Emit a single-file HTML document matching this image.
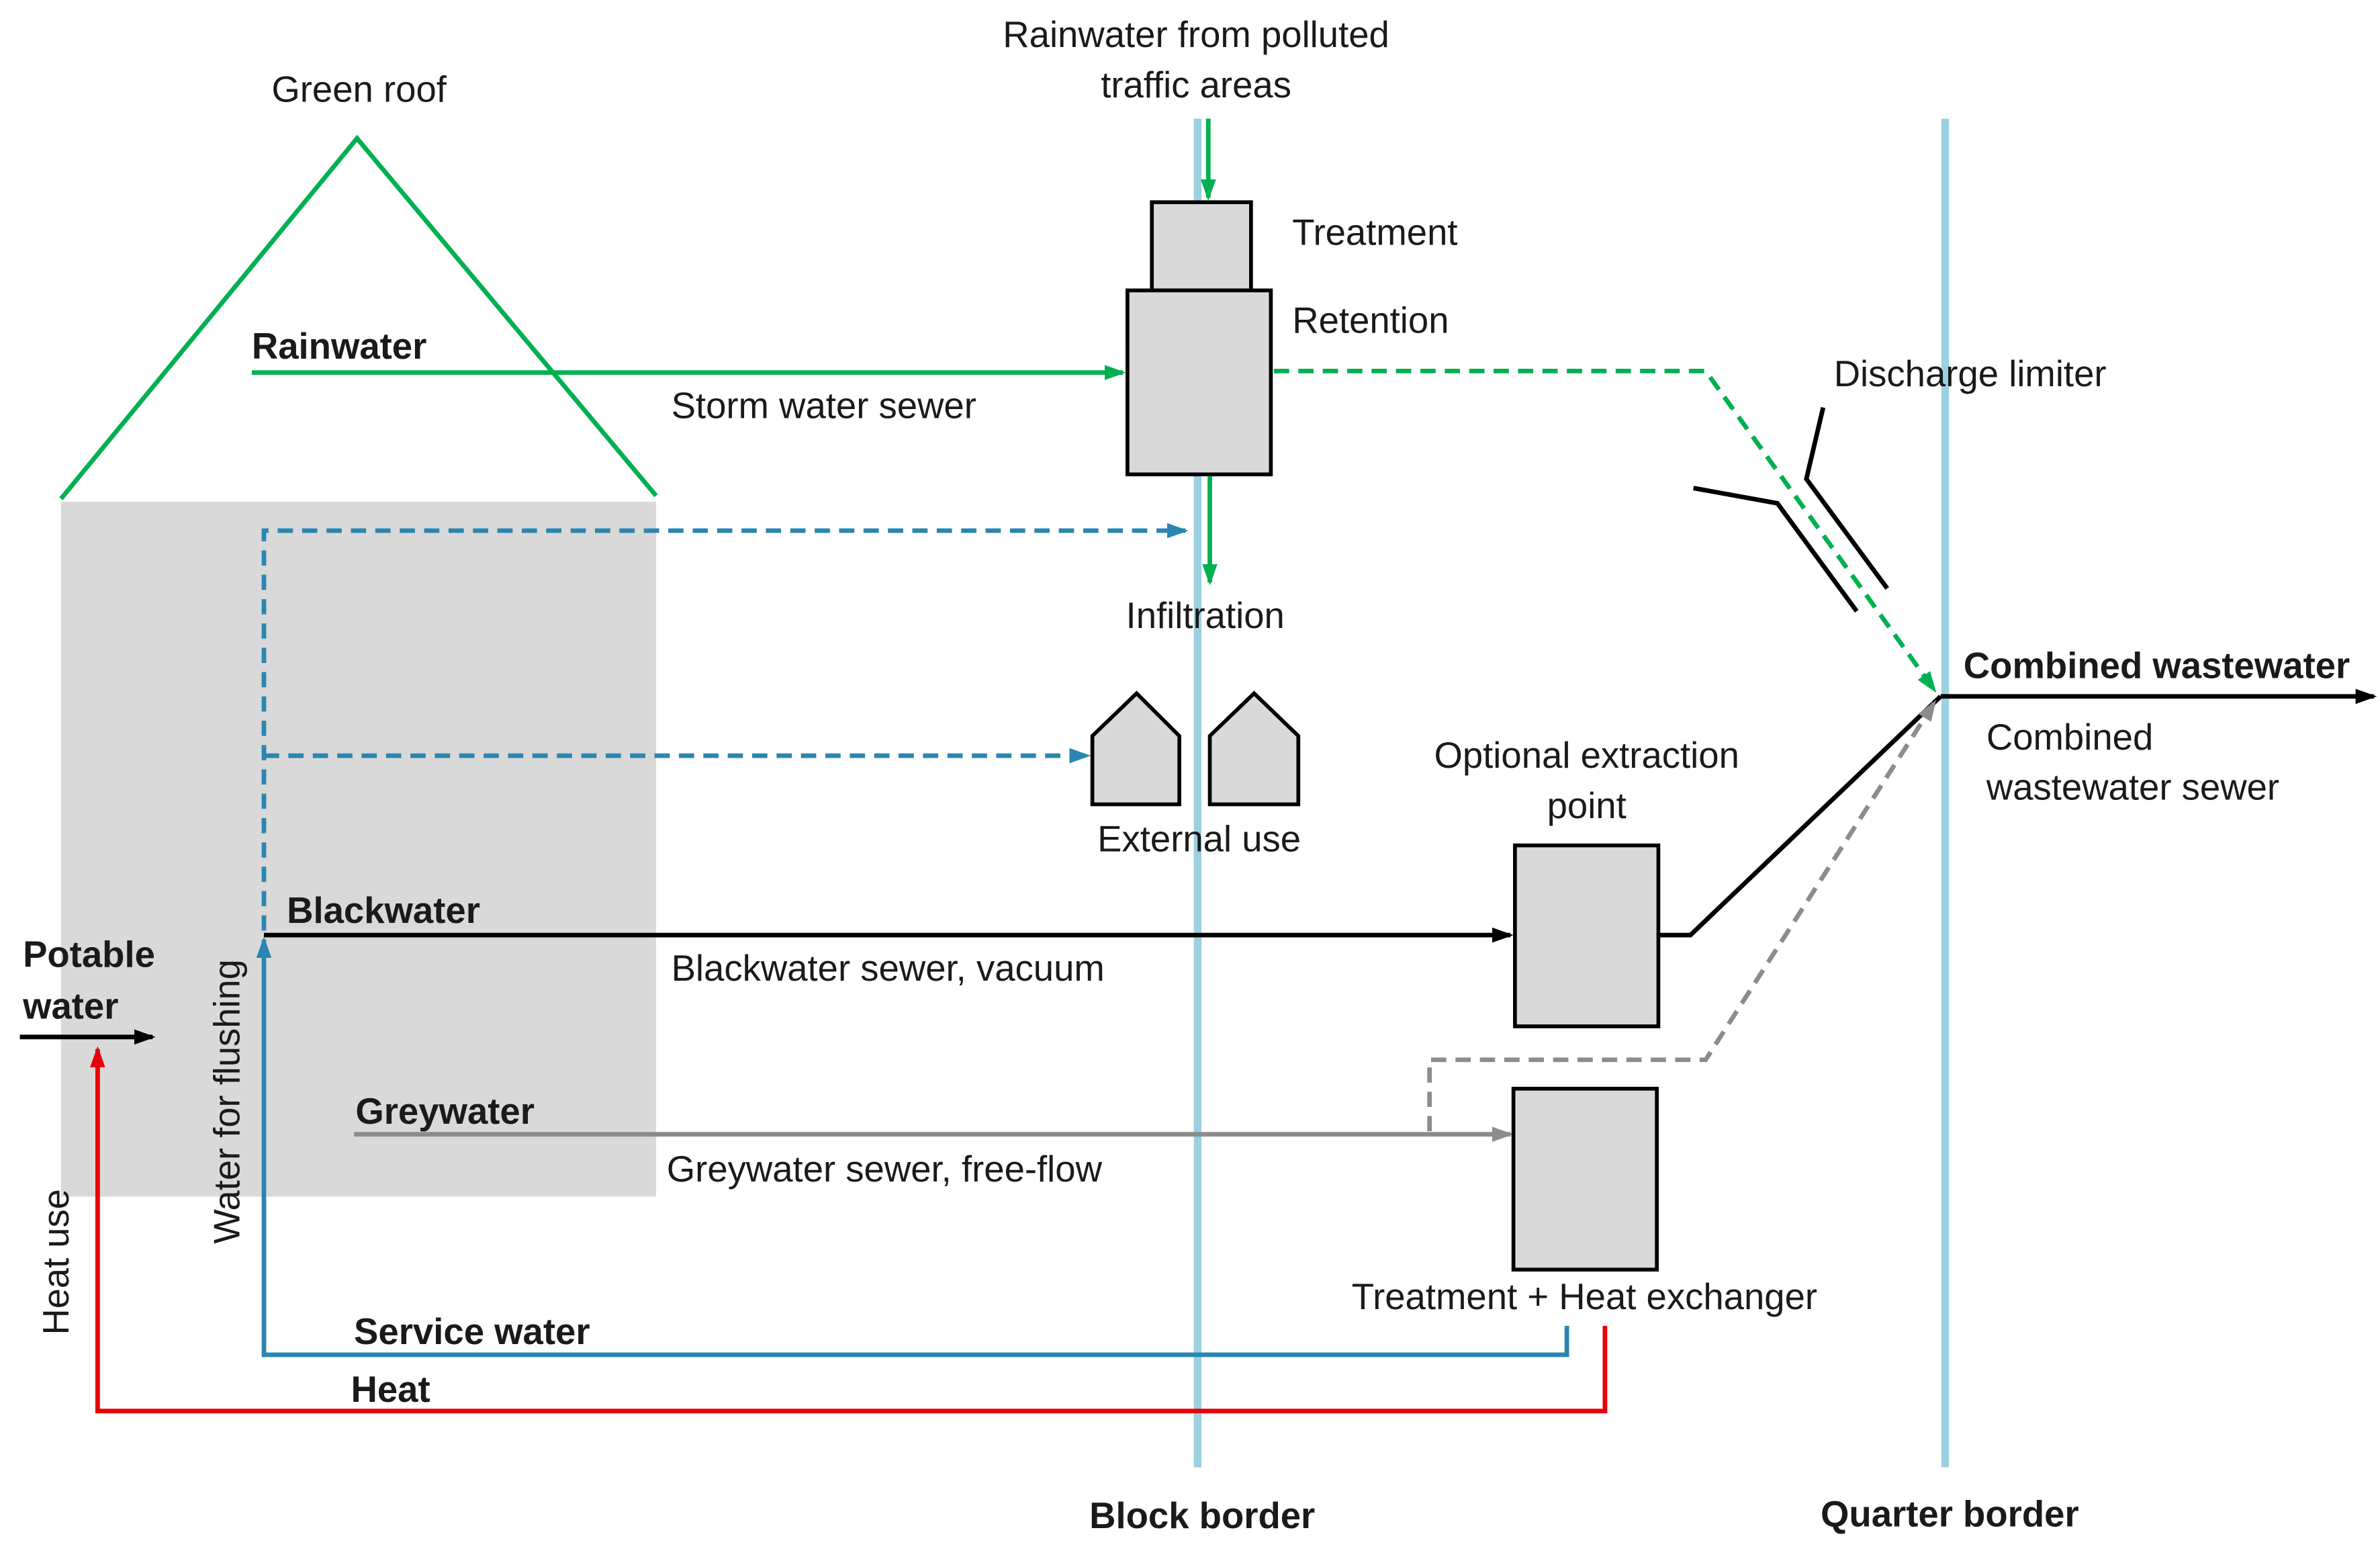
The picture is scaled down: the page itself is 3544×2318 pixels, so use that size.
<!DOCTYPE html>
<html><head><meta charset="utf-8"><style>
html,body{margin:0;padding:0;background:#fff}
svg{display:block}
text{font-family:"Liberation Sans Narrow","Liberation Sans",sans-serif;font-size:24px;fill:#1a1a1a}
.b{font-weight:bold}
</style></head><body>
<svg width="3544" height="2318" viewBox="0 0 1560 1024" preserveAspectRatio="none" xmlns="http://www.w3.org/2000/svg">
<defs>
<marker id="ag" markerWidth="14" markerHeight="14" refX="12" refY="7" orient="auto" markerUnits="userSpaceOnUse" viewBox="0 0 14 14"><path d="M0,2 L14,7 L0,12z" fill="#00b050"/></marker>
<marker id="ab" markerWidth="14" markerHeight="14" refX="12" refY="7" orient="auto" markerUnits="userSpaceOnUse" viewBox="0 0 14 14"><path d="M0,2 L14,7 L0,12z" fill="#2a86b0"/></marker>
<marker id="ak" markerWidth="14" markerHeight="14" refX="12" refY="7" orient="auto" markerUnits="userSpaceOnUse" viewBox="0 0 14 14"><path d="M0,2 L14,7 L0,12z" fill="#000"/></marker>
<marker id="ay" markerWidth="14" markerHeight="14" refX="12" refY="7" orient="auto" markerUnits="userSpaceOnUse" viewBox="0 0 14 14"><path d="M0,2 L14,7 L0,12z" fill="#8c8c8c"/></marker>
<marker id="ar" markerWidth="14" markerHeight="14" refX="12" refY="7" orient="auto" markerUnits="userSpaceOnUse" viewBox="0 0 14 14"><path d="M0,2 L14,7 L0,12z" fill="#e8000b"/></marker>
</defs>
<rect x="40" y="330" width="390" height="457" fill="#d9d9d9"/>
<polyline points="40,328 234,91 430,326" fill="none" stroke="#00b050" stroke-width="3"/>
<line x1="785" y1="78" x2="785" y2="965" stroke="#9cd0e0" stroke-width="5"/>
<line x1="1275" y1="78" x2="1275" y2="965" stroke="#9cd0e0" stroke-width="5"/>
<line x1="792" y1="78" x2="792" y2="130" stroke="#00b050" stroke-width="3" marker-end="url(#ag)"/>
<rect x="755" y="133" width="65" height="58" fill="#d9d9d9" stroke="#000" stroke-width="2.5"/>
<rect x="739" y="191" width="94" height="121" fill="#d9d9d9" stroke="#000" stroke-width="2.5"/>
<line x1="165" y1="245" x2="736" y2="245" stroke="#00b050" stroke-width="3" marker-end="url(#ag)"/>
<polyline points="835,244 1118,244 1268,454" fill="none" stroke="#00b050" stroke-width="3" stroke-dasharray="10,6" marker-end="url(#ag)"/>
<line x1="793" y1="313" x2="793" y2="383" stroke="#00b050" stroke-width="3" marker-end="url(#ag)"/>
<polyline points="173,612 173,349 777,349" fill="none" stroke="#2a86b0" stroke-width="3" stroke-dasharray="10,6" marker-end="url(#ab)"/>
<line x1="173" y1="497" x2="713" y2="497" stroke="#2a86b0" stroke-width="3" stroke-dasharray="10,6" marker-end="url(#ab)"/>
<path d="M716,484 L745,456 L773,484 L773,529 L716,529z" fill="#d9d9d9" stroke="#000" stroke-width="2.5"/>
<path d="M793,484 L822,456 L851,484 L851,529 L793,529z" fill="#d9d9d9" stroke="#000" stroke-width="2.5"/>
<line x1="173" y1="615" x2="990" y2="615" stroke="#000" stroke-width="3" marker-end="url(#ak)"/>
<rect x="993" y="556" width="94" height="119" fill="#d9d9d9" stroke="#000" stroke-width="2.5"/>
<polyline points="1087,615 1108,615 1272,458" fill="none" stroke="#000" stroke-width="3"/>
<line x1="1272" y1="458" x2="1556" y2="458" stroke="#000" stroke-width="3" marker-end="url(#ak)"/>
<polyline points="1110,321 1165,331 1217,402" fill="none" stroke="#000" stroke-width="3"/>
<polyline points="1195,268 1184,315 1237,387" fill="none" stroke="#000" stroke-width="3"/>
<line x1="232" y1="746" x2="990" y2="746" stroke="#8c8c8c" stroke-width="3" marker-end="url(#ay)"/>
<rect x="992" y="716" width="94" height="119" fill="#d9d9d9" stroke="#000" stroke-width="2.5"/>
<polyline points="937,744 937,697 1118,697 1268,462" fill="none" stroke="#8c8c8c" stroke-width="3" stroke-dasharray="10,6" marker-end="url(#ay)"/>
<polyline points="1027,872 1027,891 173,891 173,618" fill="none" stroke="#2a86b0" stroke-width="3" marker-end="url(#ab)"/>
<polyline points="1052,872 1052,928 64,928 64,690" fill="none" stroke="#e8000b" stroke-width="3" marker-end="url(#ar)"/>
<line x1="13" y1="682" x2="100" y2="682" stroke="#000" stroke-width="3" marker-end="url(#ak)"/>
<text x="178" y="67">Green roof</text>
<text x="784" y="31" text-anchor="middle">Rainwater from polluted</text>
<text x="784" y="64" text-anchor="middle">traffic areas</text>
<text x="847" y="161">Treatment</text>
<text x="847" y="219">Retention</text>
<text class="b" x="165" y="236">Rainwater</text>
<text x="440" y="275">Storm water sewer</text>
<text x="1202" y="254">Discharge limiter</text>
<text x="790" y="413" text-anchor="middle">Infiltration</text>
<text class="b" x="1287" y="446">Combined wastewater</text>
<text x="1302" y="493">Combined</text>
<text x="1302" y="526">wastewater sewer</text>
<text x="1040" y="505" text-anchor="middle">Optional extraction</text>
<text x="1040" y="538" text-anchor="middle">point</text>
<text x="786" y="560" text-anchor="middle">External use</text>
<text class="b" x="188" y="607">Blackwater</text>
<text x="440" y="645">Blackwater sewer, vacuum</text>
<text class="b" x="15" y="636">Potable</text>
<text class="b" x="15" y="670">water</text>
<text class="b" x="233" y="739">Greywater</text>
<text x="437" y="777">Greywater sewer, free-flow</text>
<text x="886" y="861">Treatment + Heat exchanger</text>
<text class="b" x="232" y="884">Service water</text>
<text class="b" x="230" y="922">Heat</text>
<text transform="translate(157,818) rotate(-90)">Water for flushing</text>
<text transform="translate(45,878) rotate(-90)">Heat use</text>
<text class="b" x="788" y="1005" text-anchor="middle">Block border</text>
<text class="b" x="1278" y="1004" text-anchor="middle">Quarter border</text>
</svg>
</body></html>
